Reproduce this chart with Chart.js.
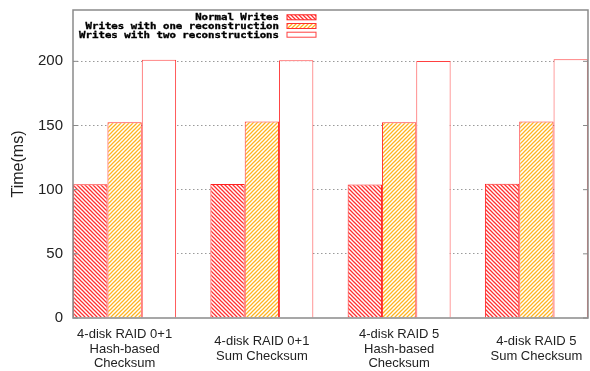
<!DOCTYPE html>
<html>
<head>
<meta charset="utf-8">
<script src="https://cdn.jsdelivr.net/npm/chart.js@4/dist/chart.umd.min.js"></script>
<style>
  html, body { margin: 0; padding: 0; background: #fff; }
  #wrap { width: 590px; height: 371px; position: relative; }
</style>
</head>
<body>
<div id="wrap"><canvas id="myChart"></canvas></div>
<script>
const groupLabels = [
  ['4-disk RAID 0+1', 'Hash-based', 'Checksum'],
  ['4-disk RAID 0+1', 'Sum Checksum'],
  ['4-disk RAID 5', 'Hash-based', 'Checksum'],
  ['4-disk RAID 5', 'Sum Checksum']
];
const seriesNames = ['Normal Writes', 'Writes with one reconstruction', 'Writes with two reconstructions'];
const normalWrites = [104.3, 104.4, 104.1, 104.6];
const oneRecon = [152.5, 153.2, 152.5, 153.2];
const twoRecon = [201.3, 200.8, 200.3, 201.6];
const yTicks = [0, 50, 100, 150, 200];

function hatch(color, dir) {
  const s = 4;
  const c = document.createElement('canvas');
  c.width = s; c.height = s;
  const g = c.getContext('2d');
  g.fillStyle = '#fff';
  g.fillRect(0, 0, s, s);
  g.strokeStyle = color;
  g.lineWidth = 1.25;
  g.beginPath();
  if (dir === 'back') {
    g.moveTo(0, 0); g.lineTo(s, s);
    g.moveTo(-1, s - 1); g.lineTo(1, s + 1);
    g.moveTo(s - 1, -1); g.lineTo(s + 1, 1);
  } else {
    g.moveTo(0, s); g.lineTo(s, 0);
    g.moveTo(-1, 1); g.lineTo(1, -1);
    g.moveTo(s - 1, s + 1); g.lineTo(s + 1, s - 1);
  }
  g.stroke();
  return g.createPattern(c, 'repeat');
}

const ctx = document.getElementById('myChart');
const redHatch = hatch('#ff3030', 'back');
const orangeHatch = hatch('#ffb420', 'fwd');
const fills = [redHatch, orangeHatch, '#ffffff'];
const borders = ['#ff2020', '#ff3030', '#ff4040'];

// plot frame, inner tick marks and the gnuplot style key
const framePlugin = {
  id: 'frame',
  afterDatasetsDraw(chart) {
    const { ctx, chartArea: a, scales } = chart;
    ctx.save();
    ctx.strokeStyle = '#8a8a8a';
    ctx.lineWidth = 1.5;
    ctx.strokeRect(a.left, a.top, a.right - a.left, a.bottom - a.top);
    ctx.lineWidth = 1;
    yTicks.forEach(v => {
      const y = scales.y.getPixelForValue(v);
      ctx.beginPath();
      ctx.moveTo(a.left, y); ctx.lineTo(a.left + 5, y);
      ctx.moveTo(a.right, y); ctx.lineTo(a.right - 5, y);
      ctx.stroke();
    });

    const rowY = [17.3, 26, 34.7];
    seriesNames.forEach((name, i) => {
      ctx.save();
      ctx.translate(279, rowY[i]);
      ctx.scale(1.19, 1);
      ctx.font = 'bold 9px "DejaVu Sans Mono"';
      ctx.fillStyle = '#000';
      ctx.strokeStyle = '#000';
      ctx.lineWidth = 0.35;
      ctx.textAlign = 'right';
      ctx.textBaseline = 'middle';
      ctx.fillText(name, 0, 0.5);
      ctx.strokeText(name, 0, 0.5);
      ctx.restore();
      ctx.fillStyle = fills[i];
      ctx.fillRect(287, rowY[i] - 2.5, 29, 5);
      ctx.strokeStyle = borders[i];
      ctx.lineWidth = 1;
      ctx.strokeRect(287, rowY[i] - 2.5, 29, 5);
    });
    ctx.restore();
  }
};

const sets = [normalWrites, oneRecon, twoRecon];
const myChart = new Chart(ctx, {
  type: 'bar',
  data: {
    datasets: sets.map((vals, k) => ({
      label: seriesNames[k],
      data: vals.map((v, i) => ({ x: i, y: v })),
      backgroundColor: fills[k],
      borderColor: borders[k],
      borderWidth: 1,
      borderSkipped: 'bottom'
    }))
  },
  options: {
    maintainAspectRatio: false,
    animation: false,
    layout: { padding: { top: 10, right: 2, left: 0, bottom: 0 } },
    plugins: {
      legend: { display: false },
      tooltip: { enabled: false }
    },
    datasets: {
      bar: { categoryPercentage: 0.75, barPercentage: 1.0 }
    },
    scales: {
      x: {
        type: 'linear',
        offset: false,
        min: -0.376,
        max: 3.376,
        grid: { display: false, offset: false },
        border: { display: false },
        afterBuildTicks: axis => { axis.ticks = groupLabels.map((_, i) => ({ value: i })); },
        afterFit: axis => { axis.height = 53; axis.paddingLeft = 0; axis.paddingRight = 0; },
        ticks: {
          includeBounds: false,
          maxRotation: 0,
          autoSkip: false,
          crossAlign: 'center',
          padding: 8,
          color: '#222',
          font: { family: '"Liberation Sans", Arial, sans-serif', size: 13, lineHeight: 1.15 },
          callback: v => groupLabels[v]
        }
      },
      y: {
        min: 0,
        max: 240,
        grid: {
          drawTicks: false,
          color: c => (c.tick && c.tick.value === 0) ? 'rgba(0,0,0,0)' : '#9a9a9a',
          lineWidth: 1
        },
        border: { display: false, dash: [1.5, 2.5] },
        afterFit: axis => { axis.width = 73; axis.paddingTop = 0; axis.paddingBottom = 0; },
        ticks: {
          stepSize: 50,
          includeBounds: false,
          padding: 10,
          color: '#222',
          font: { family: '"Liberation Sans", Arial, sans-serif', size: 15 }
        },
        title: {
          display: true,
          text: 'Time(ms)',
          color: '#222',
          padding: { top: 9, bottom: 0 },
          font: { family: '"Liberation Sans", Arial, sans-serif', size: 16 }
        }
      }
    }
  },
  plugins: [framePlugin]
});
</script>
</body>
</html>
